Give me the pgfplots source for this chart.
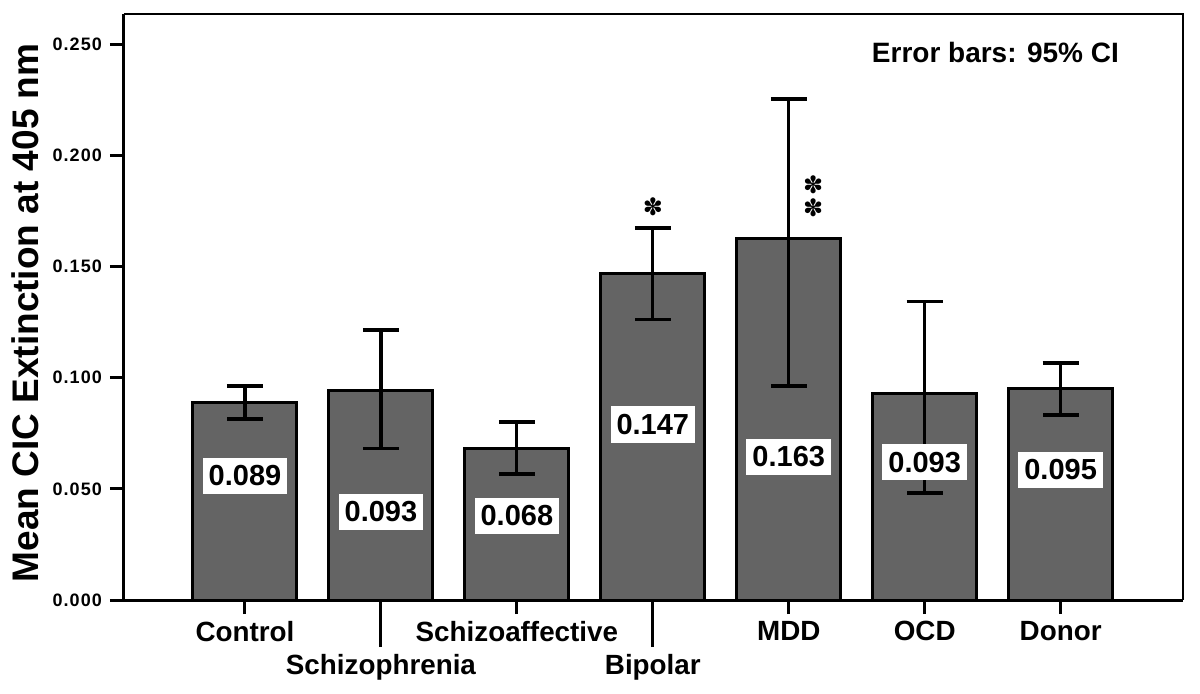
\documentclass[border=0pt]{standalone}
\usepackage{pgfplots}
\pgfplotsset{compat=1.18}
\usepackage{pgfplotstable}
\usepackage{fontspec}
\setmainfont{Liberation Sans}
\newfontfamily\tickfont[LetterSpace=6]{Liberation Sans Bold}
\newfontfamily\symfont{DejaVu Sans}
\definecolor{barfill}{RGB}{100,100,100}

\pgfplotstableread{
x y ep em
0 0.089 0.0072 0.0076
1 0.094 0.0274 0.0257
2 0.068 0.0120 0.0113
3 0.147 0.0203 0.0207
4 0.1625 0.0628 0.0663
5 0.093 0.0414 0.0449
6 0.095 0.0116 0.0118
}\datatable

\begin{document}
\begin{tikzpicture}
\useasboundingbox (-62pt,-46.5pt) rectangle (538pt,300pt);
\begin{axis}[
  scale only axis, width=529.5pt, height=293pt,
  at={(0pt,0pt)}, anchor=south west,
  xmin=-0.89, xmax=6.9, ymin=0, ymax=0.2635,
  axis x line*=bottom, axis y line*=left,
  axis line style={line width=1.5pt, -},
  tick align=outside,
  major tick length=7pt,
  tick style={line width=1.5pt, black},
  ytick={0,0.05,0.1,0.15,0.2,0.25},
  yticklabel style={font=\tickfont\fontsize{9}{10}\selectfont, xshift=-0.5pt,
    /pgf/number format/.cd, fixed, fixed zerofill, precision=3, assume math mode=true},
  xtick={0,2,4,5,6},
  xticklabels={Control, Schizoaffective, MDD, OCD, Donor},
  xticklabel style={font=\bfseries\fontsize{13.9}{16}\selectfont},
  extra x ticks={1,3},
  extra x tick labels={Schizophrenia, Bipolar},
  extra x tick style={major tick length=23.5pt},
  ylabel={Mean CIC Extinction at 405 nm},
  ylabel style={font=\bfseries\fontsize{18.5}{20}\selectfont, at={(axis description cs:-0.0935,0.49)}, anchor=center},
  clip=false,
]
\addplot[ybar, bar width=0.765, fill=barfill, draw=black, line width=1.5pt,
  error bars/.cd, y dir=both, y explicit,
  error bar style={line width=1.6pt, black},
  error mark options={rotate=90, mark size=9pt, line width=1.6pt, black}]
  table[x=x, y=y, y error plus=ep, y error minus=em]{\datatable};
\draw[line width=1pt] (rel axis cs:0,1) -- (rel axis cs:1,1) -- (rel axis cs:1,0);
\tikzset{vlab/.style={fill=white, font=\bfseries\fontsize{14.5}{16}\selectfont, inner xsep=3pt, inner ysep=4pt}}
\node[vlab] at (axis cs:0,0.0558) {0.089};
\node[vlab] at (axis cs:1,0.0396) {0.093};
\node[vlab] at (axis cs:2,0.0378) {0.068};
\node[vlab] at (axis cs:3,0.0790) {0.147};
\node[vlab] at (axis cs:4,0.0643) {0.163};
\node[vlab] at (axis cs:5,0.0620) {0.093};
\node[vlab] at (axis cs:6,0.0585) {0.095};
\node[font=\symfont\fontsize{12}{13}\selectfont] at (axis cs:3,0.177) {✽};
\node[font=\symfont\fontsize{12}{13}\selectfont] at (axis cs:4.18,0.1868) {✽};
\node[font=\symfont\fontsize{12}{13}\selectfont] at (axis cs:4.18,0.1765) {✽};
\node[font=\bfseries\fontsize{14}{16}\selectfont] at (axis cs:5.52,0.2464) {Error bars: 95\% CI};
\end{axis}
\end{tikzpicture}
\end{document}
